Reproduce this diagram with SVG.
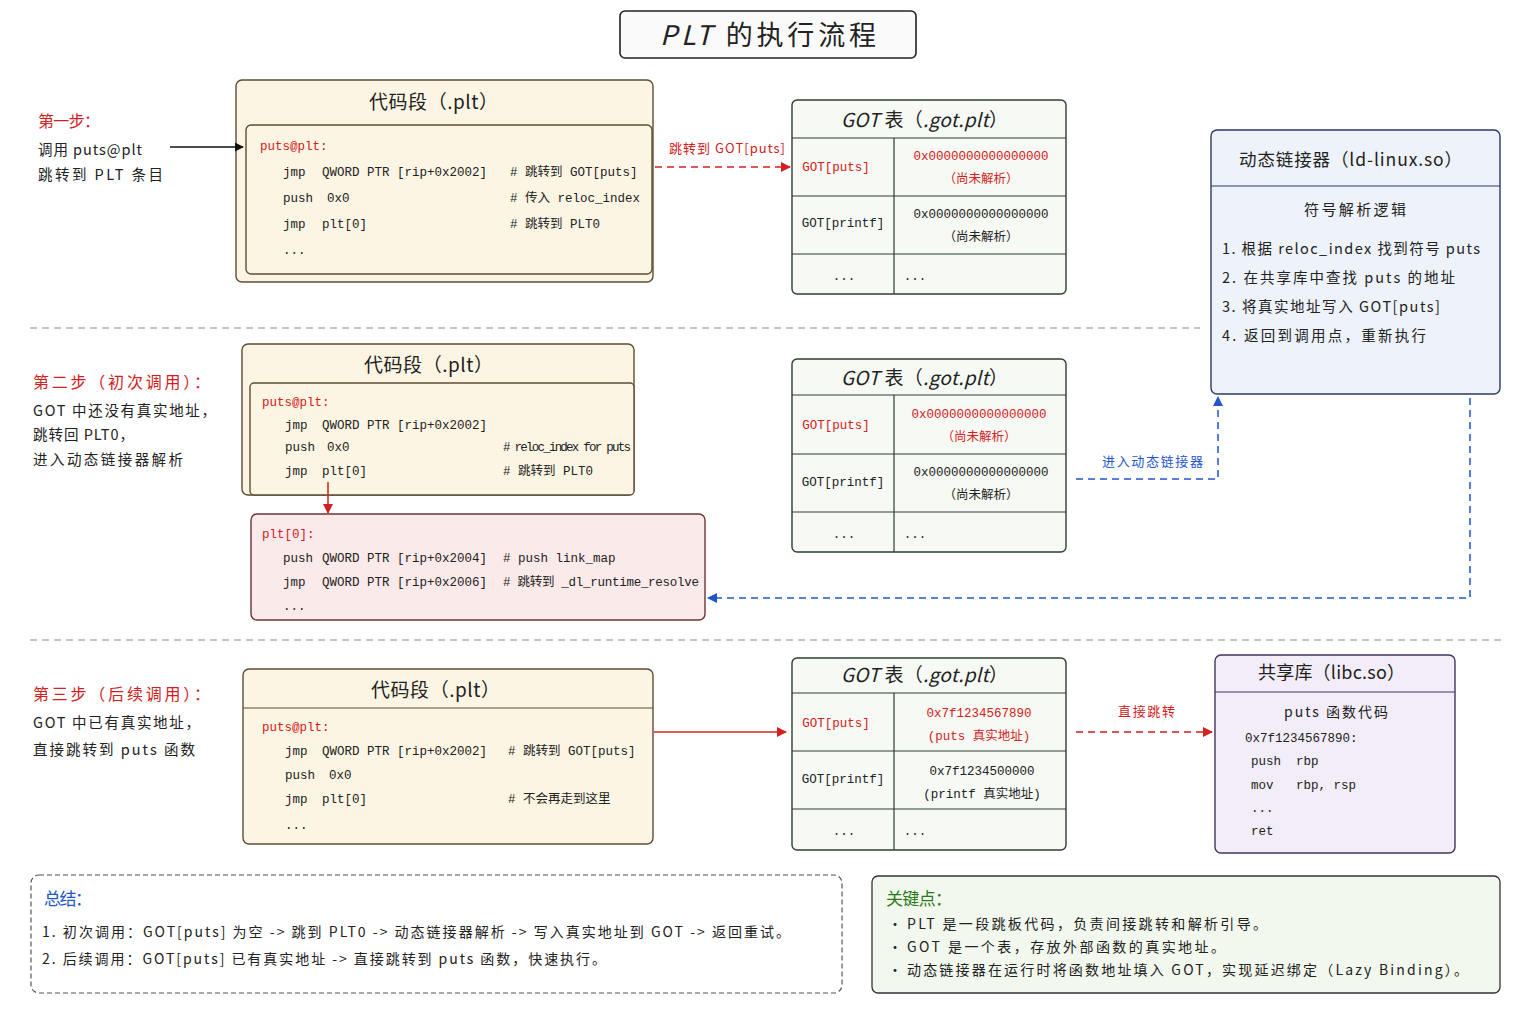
<svg xmlns="http://www.w3.org/2000/svg" width="1536" height="1024" viewBox="0 0 1536 1024">
<style>
.t{font-family:"Noto Sans CJK SC","Noto Sans",sans-serif;fill:#222}
.m{font-family:"Liberation Mono","DejaVu Sans Mono","Noto Sans CJK SC",monospace;font-size:12.5px;fill:#222}
.red{fill:#d42020}
.blue{fill:#2255cc}
.green{fill:#2a7a1a}
.code{fill:#fcf5e3;stroke:#5e4d33;stroke-width:1.4}
.got{fill:#f6f9f4;stroke:#2f3f30;stroke-width:1.4}
.gl{stroke:#2f3f30;stroke-width:1.2;fill:none}
.sep{stroke:#888;stroke-width:1.2;stroke-dasharray:7 5;fill:none}
.h{font-size:19px}
.c{text-anchor:middle}
</style>
<defs>
<marker id="ak" viewBox="0 0 10 10" refX="9" refY="5" markerWidth="9" markerHeight="9" orient="auto" markerUnits="userSpaceOnUse"><path d="M0,0 L10,5 L0,10 z" fill="#111"/></marker>
<marker id="ar" viewBox="0 0 10 10" refX="9" refY="5" markerWidth="10" markerHeight="10" orient="auto" markerUnits="userSpaceOnUse"><path d="M0,0 L10,5 L0,10 z" fill="#d42020"/></marker>
<marker id="ab" viewBox="0 0 10 10" refX="9" refY="5" markerWidth="10" markerHeight="10" orient="auto" markerUnits="userSpaceOnUse"><path d="M0,0 L10,5 L0,10 z" fill="#2255cc"/></marker>
</defs>
<rect width="1536" height="1024" fill="#ffffff"/>

<g id="title">
<rect x="620" y="11" width="296" height="47" rx="5" fill="#fafafa" stroke="#222" stroke-width="1.6"/>
<text x="660" y="45" class="t" font-size="27" textLength="216"><tspan font-style="italic">PLT</tspan> 的执行流程</text>
</g>

<g id="separators">
<line x1="30" y1="328" x2="1200" y2="328" class="sep"/>
<line x1="30" y1="640" x2="1505" y2="640" class="sep"/>
</g>

<!-- Step 1 -->
<g id="step1-label">
<text x="38" y="127" class="t red" font-size="16" textLength="62">第一步：</text>
<text x="38" y="155" class="t" font-size="14.5" textLength="104">调用 puts@plt</text>
<text x="38" y="180" class="t" font-size="14.5" textLength="125">跳转到 PLT 条目</text>
</g>

<g id="plt1">
<rect x="236" y="80" width="417" height="202" rx="6" class="code"/>
<text x="369" y="109" class="t h" textLength="129">代码段（.plt）</text>
<rect x="246" y="125" width="406" height="149" rx="5" class="code"/>
<text x="260" y="150" class="m red">puts@plt:</text>
<text x="283" y="176" class="m">jmp</text><text x="322" y="176" class="m">QWORD PTR [rip+0x2002]</text><text x="510" y="176" class="m"># 跳转到 GOT[puts]</text>
<text x="283" y="202" class="m">push</text><text x="327" y="202" class="m">0x0</text><text x="510" y="202" class="m"># 传入 reloc_index</text>
<text x="283" y="228" class="m">jmp</text><text x="322" y="228" class="m">plt[0]</text><text x="510" y="228" class="m"># 跳转到 PLT0</text>
<text x="283" y="254" class="m">...</text>
</g>

<g id="got1">
<rect x="792" y="100" width="274" height="194" rx="5" class="got"/>
<line x1="792" y1="138" x2="1066" y2="138" class="gl"/>
<line x1="792" y1="196" x2="1066" y2="196" class="gl"/>
<line x1="792" y1="254" x2="1066" y2="254" class="gl"/>
<line x1="894" y1="138" x2="894" y2="294" class="gl"/>
<text x="841" y="127" class="t h" textLength="167"><tspan font-style="italic">GOT</tspan> 表（<tspan font-style="italic">.got.plt</tspan>）</text>
<text x="836" y="171" class="m c red">GOT[puts]</text>
<text x="981" y="160" class="m c red" font-size="11.8">0x0000000000000000</text>
<text x="981" y="183" class="m c red">（尚未解析）</text>
<text x="843" y="227" class="m c">GOT[printf]</text>
<text x="981" y="218" class="m c" font-size="11.8">0x0000000000000000</text>
<text x="981" y="241" class="m c">（尚未解析）</text>
<text x="844" y="280" class="m c">...</text>
<text x="915" y="280" class="m c">...</text>
</g>

<g id="linker">
<rect x="1211" y="130" width="289" height="264" rx="6" fill="#eef2fa" stroke="#2d3a66" stroke-width="1.4"/>
<line x1="1211" y1="186" x2="1500" y2="186" stroke="#2d3a66" stroke-width="1.2"/>
<text x="1239" y="166" class="t" font-size="17.5" textLength="223">动态链接器（ld-linux.so）</text>
<text x="1304" y="215" class="t" font-size="15" textLength="102">符号解析逻辑</text>
<text x="1222" y="254" class="t" font-size="14.5" textLength="258">1. 根据 reloc_index 找到符号 puts</text>
<text x="1222" y="283" class="t" font-size="14.5" textLength="233">2. 在共享库中查找 puts 的地址</text>
<text x="1222" y="312" class="t" font-size="14.5" textLength="218">3. 将真实地址写入 GOT[puts]</text>
<text x="1222" y="341" class="t" font-size="14.5" textLength="204">4. 返回到调用点，重新执行</text>
</g>

<!-- Step 2 -->
<g id="step2-label">
<text x="33" y="388" class="t red" font-size="16" textLength="177">第二步（初次调用）：</text>
<text x="33" y="416" class="t" font-size="14.5" textLength="183">GOT 中还没有真实地址，</text>
<text x="33" y="440" class="t" font-size="14.5" textLength="101">跳转回 PLT0，</text>
<text x="33" y="465" class="t" font-size="14.5" textLength="150">进入动态链接器解析</text>
</g>

<g id="plt2">
<rect x="242" y="344" width="392" height="151" rx="6" class="code"/>
<text x="364" y="372" class="t h" textLength="129">代码段（.plt）</text>
<rect x="250" y="383" width="384" height="112" rx="4" class="code"/>
<text x="262" y="406" class="m red">puts@plt:</text>
<text x="285" y="429" class="m">jmp</text><text x="322" y="429" class="m">QWORD PTR [rip+0x2002]</text>
<text x="285" y="451" class="m">push</text><text x="327" y="451" class="m">0x0</text><text x="503" y="451" class="m" font-size="10.5" textLength="128">#  reloc_index for puts</text>
<text x="285" y="475" class="m">jmp</text><text x="322" y="475" class="m">plt[0]</text><text x="503" y="475" class="m"># 跳转到 PLT0</text>
</g>

<g id="plt0">
<rect x="251" y="514" width="454" height="106" rx="6" fill="#fbeaea" stroke="#6e3434" stroke-width="1.4"/>
<text x="262" y="538" class="m red">plt[0]:</text>
<text x="283" y="562" class="m">push</text><text x="322" y="562" class="m">QWORD PTR [rip+0x2004]</text><text x="503" y="562" class="m"># push link_map</text>
<text x="283" y="586" class="m">jmp</text><text x="322" y="586" class="m">QWORD PTR [rip+0x2006]</text><text x="503" y="586" class="m" font-size="12" textLength="196"># 跳转到 _dl_runtime_resolve</text>
<text x="283" y="610" class="m">...</text>
</g>

<g id="got2">
<rect x="792" y="359" width="274" height="193" rx="5" class="got"/>
<line x1="792" y1="395" x2="1066" y2="395" class="gl"/>
<line x1="792" y1="454" x2="1066" y2="454" class="gl"/>
<line x1="792" y1="512" x2="1066" y2="512" class="gl"/>
<line x1="894" y1="395" x2="894" y2="552" class="gl"/>
<text x="841" y="385" class="t h" textLength="167"><tspan font-style="italic">GOT</tspan> 表（<tspan font-style="italic">.got.plt</tspan>）</text>
<text x="836" y="429" class="m c red">GOT[puts]</text>
<text x="979" y="418" class="m c red" font-size="11.8">0x0000000000000000</text>
<text x="979" y="441" class="m c red">（尚未解析）</text>
<text x="843" y="486" class="m c">GOT[printf]</text>
<text x="981" y="476" class="m c" font-size="11.8">0x0000000000000000</text>
<text x="981" y="499" class="m c">（尚未解析）</text>
<text x="844" y="538" class="m c">...</text>
<text x="915" y="538" class="m c">...</text>
</g>

<!-- Step 3 -->
<g id="step3-label">
<text x="33" y="700" class="t red" font-size="16" textLength="177">第三步（后续调用）：</text>
<text x="33" y="728" class="t" font-size="14.5" textLength="167">GOT 中已有真实地址，</text>
<text x="33" y="755" class="t" font-size="14.5" textLength="162">直接跳转到 puts 函数</text>
</g>

<g id="plt3">
<rect x="243" y="669" width="410" height="175" rx="6" class="code"/>
<line x1="243" y1="708" x2="653" y2="708" stroke="#5e4d33" stroke-width="1.2"/>
<text x="371" y="697" class="t h" textLength="129">代码段（.plt）</text>
<text x="262" y="731" class="m red">puts@plt:</text>
<text x="285" y="755" class="m">jmp</text><text x="322" y="755" class="m">QWORD PTR [rip+0x2002]</text><text x="508" y="755" class="m"># 跳转到 GOT[puts]</text>
<text x="285" y="779" class="m">push</text><text x="329" y="779" class="m">0x0</text>
<text x="285" y="803" class="m">jmp</text><text x="322" y="803" class="m">plt[0]</text><text x="508" y="803" class="m"># 不会再走到这里</text>
<text x="285" y="829" class="m">...</text>
</g>

<g id="got3">
<rect x="792" y="658" width="274" height="192" rx="5" class="got"/>
<line x1="792" y1="693" x2="1066" y2="693" class="gl"/>
<line x1="792" y1="751" x2="1066" y2="751" class="gl"/>
<line x1="792" y1="809" x2="1066" y2="809" class="gl"/>
<line x1="894" y1="693" x2="894" y2="850" class="gl"/>
<text x="841" y="682" class="t h" textLength="167"><tspan font-style="italic">GOT</tspan> 表（<tspan font-style="italic">.got.plt</tspan>）</text>
<text x="836" y="727" class="m c red">GOT[puts]</text>
<text x="979" y="717" class="m c red">0x7f1234567890</text>
<text x="979" y="740" class="m c red">(puts 真实地址)</text>
<text x="843" y="783" class="m c">GOT[printf]</text>
<text x="982" y="775" class="m c">0x7f1234500000</text>
<text x="982" y="798" class="m c">(printf 真实地址)</text>
<text x="844" y="835" class="m c">...</text>
<text x="915" y="835" class="m c">...</text>
</g>

<g id="libc">
<rect x="1215" y="655" width="240" height="198" rx="6" fill="#f2edf8" stroke="#43355f" stroke-width="1.4"/>
<line x1="1215" y1="692" x2="1455" y2="692" stroke="#43355f" stroke-width="1.2"/>
<text x="1258" y="679" class="t" font-size="18" textLength="147">共享库（libc.so）</text>
<text x="1284" y="717" class="t" font-size="14" textLength="104">puts 函数代码</text>
<text x="1245" y="742" class="m">0x7f1234567890:</text>
<text x="1251" y="765" class="m">push</text><text x="1296" y="765" class="m">rbp</text>
<text x="1251" y="789" class="m">mov</text><text x="1296" y="789" class="m">rbp, rsp</text>
<text x="1251" y="812" class="m">...</text>
<text x="1251" y="835" class="m">ret</text>
</g>

<g id="summary">
<rect x="31" y="875" width="811" height="118" rx="8" fill="#ffffff" stroke="#555" stroke-width="1.2" stroke-dasharray="5 3"/>
<text x="44" y="905" class="t blue" font-size="17" textLength="48">总结：</text>
<text x="42" y="937" class="t" font-size="14" textLength="748">1. 初次调用：GOT[puts] 为空 -&gt; 跳到 PLT0 -&gt; 动态链接器解析 -&gt; 写入真实地址到 GOT -&gt; 返回重试。</text>
<text x="42" y="964" class="t" font-size="14" textLength="564">2. 后续调用：GOT[puts] 已有真实地址 -&gt; 直接跳转到 puts 函数，快速执行。</text>
</g>

<g id="keypoints">
<rect x="872" y="876" width="628" height="117" rx="6" fill="#f2f8ee" stroke="#333" stroke-width="1.3"/>
<text x="886" y="905" class="t green" font-size="17" textLength="66">关键点：</text>
<text x="888" y="929" class="t" font-size="14">•</text><text x="907" y="929" class="t" font-size="14" textLength="360">PLT 是一段跳板代码，负责间接跳转和解析引导。</text>
<text x="888" y="952" class="t" font-size="14">•</text><text x="907" y="952" class="t" font-size="14" textLength="318">GOT 是一个表，存放外部函数的真实地址。</text>
<text x="888" y="975" class="t" font-size="14">•</text><text x="907" y="975" class="t" font-size="14" textLength="561">动态链接器在运行时将函数地址填入 GOT，实现延迟绑定（Lazy Binding）。</text>
</g>

<g id="connectors">
<line x1="170" y1="147" x2="243" y2="147" stroke="#111" stroke-width="1.6" marker-end="url(#ak)"/>
<line x1="655" y1="167" x2="790" y2="167" stroke="#d42020" stroke-width="1.5" stroke-dasharray="7 5" marker-end="url(#ar)"/>
<text x="669" y="153" class="t red" font-size="13" textLength="116">跳转到 GOT[puts]</text>
<line x1="328" y1="482" x2="328" y2="513" stroke="#d42020" stroke-width="1.5" marker-end="url(#ar)"/>
<polyline points="1076,479 1218,479 1218,397" fill="none" stroke="#2255cc" stroke-width="1.5" stroke-dasharray="7 5" marker-end="url(#ab)"/>
<text x="1102" y="466" class="t blue" font-size="13" textLength="101">进入动态链接器</text>
<polyline points="1470,398 1470,598 708,598" fill="none" stroke="#2255cc" stroke-width="1.5" stroke-dasharray="7 5" marker-end="url(#ab)"/>
<line x1="654" y1="732" x2="786" y2="732" stroke="#d42020" stroke-width="1.5" marker-end="url(#ar)"/>
<line x1="1076" y1="732" x2="1212" y2="732" stroke="#d42020" stroke-width="1.5" stroke-dasharray="7 5" marker-end="url(#ar)"/>
<text x="1118" y="716" class="t red" font-size="13" textLength="57">直接跳转</text>
</g>
</svg>
